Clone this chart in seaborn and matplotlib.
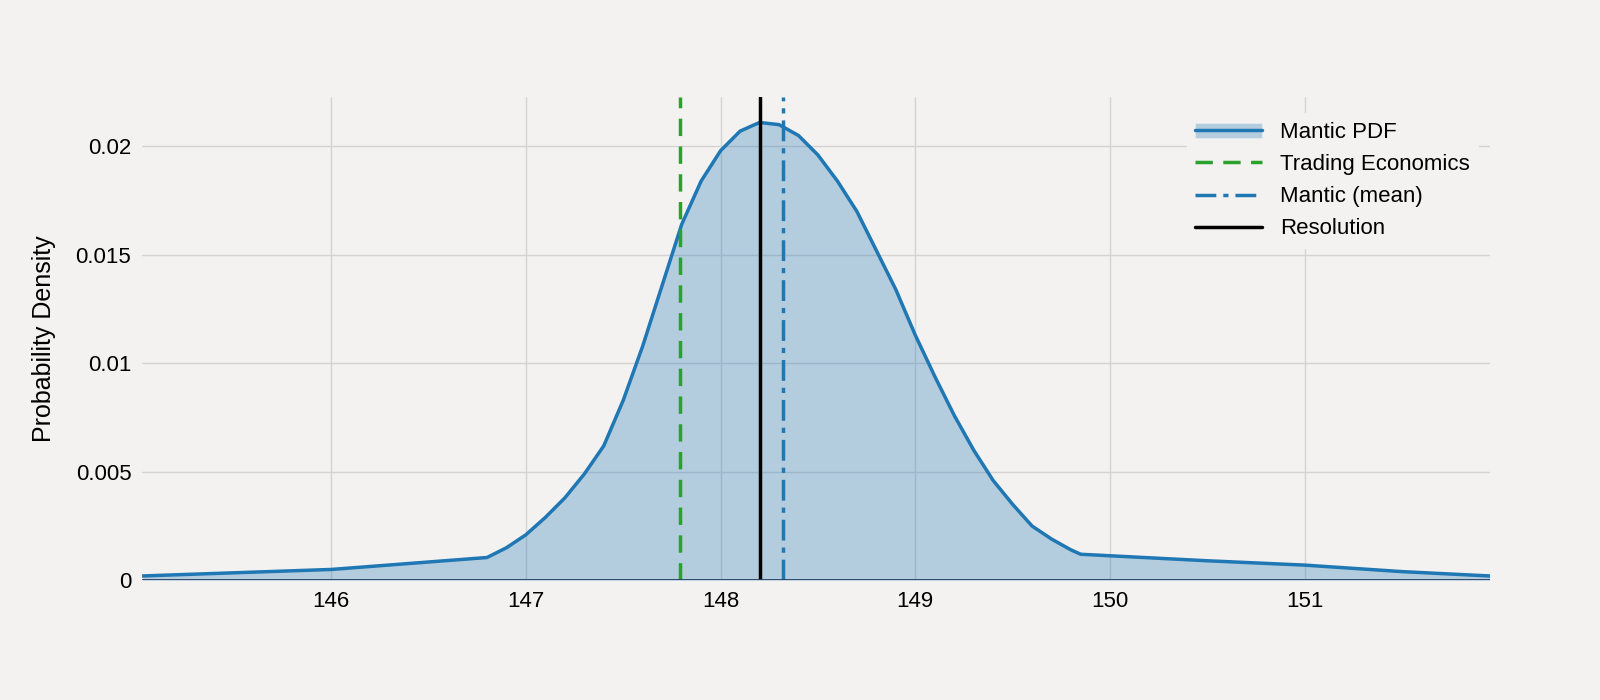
import numpy as np
import pandas as pd
import matplotlib
matplotlib.use("Agg")
import matplotlib.pyplot as plt
import seaborn as sns
from matplotlib.patches import Patch
from matplotlib.lines import Line2D

# valores
x_vals = [145.03, 146.0, 146.80, 146.9, 147.0, 147.1, 147.2, 147.3, 147.4, 147.5,
          147.6, 147.7, 147.8, 147.9, 148.0, 148.1, 148.2, 148.3, 148.4, 148.5,
          148.6, 148.7, 148.8, 148.9, 149.0, 149.1, 149.2, 149.3, 149.4, 149.5,
          149.6, 149.7, 149.8, 149.85, 150.5, 151.0, 151.5, 151.95]
pdf_vals = [0.0002, 0.0005, 0.00105, 0.0015, 0.0021, 0.0029, 0.0038, 0.0049, 0.0062, 0.0083,
            0.0108, 0.0136, 0.0164, 0.0184, 0.0198, 0.0207, 0.0211, 0.0210, 0.0205, 0.0196,
            0.0184, 0.0170, 0.0152, 0.0134, 0.0113, 0.0094, 0.0076, 0.0060, 0.0046, 0.0035,
            0.0025, 0.0019, 0.0014, 0.0012, 0.0009, 0.0007, 0.0004, 0.0002]
trading_economics = 147.79
mantic_mean = 148.32
resolution = 148.20

df = pd.DataFrame({"x": x_vals, "pdf": pdf_vals})

sns.set_style("whitegrid")
plt.rcParams["font.family"] = ["Liberation Sans", "DejaVu Sans"]
plt.rcParams["text.color"] = "black"
plt.rcParams["xtick.color"] = "black"
plt.rcParams["ytick.color"] = "black"
plt.rcParams["axes.labelcolor"] = "black"
bg = "#f3f2f1"
blue = "#1f77b4"

fig = plt.figure(figsize=(16, 7), dpi=100, facecolor=bg)
ax = fig.add_axes([0.089, 0.171, 0.842, 0.69], facecolor=bg)

ax.fill_between(df["x"], df["pdf"], color=blue, alpha=0.3, linewidth=0)
sns.lineplot(data=df, x="x", y="pdf", ax=ax, color=blue, linewidth=2.5, legend=False)
ax.axvline(trading_economics, color="#2ca02c", linestyle=(0, (5, 3)), linewidth=2.5)
ax.axvline(mantic_mean, color=blue, linestyle=(0, (6, 2, 1.5, 2)), linewidth=2.5)
ax.axvline(resolution, color="black", linewidth=2.5)
ax.axhline(0, color="#2a3f5f", linewidth=2)

ax.set_xlim(145.03, 151.95)
ax.set_ylim(0, 0.02226)
ax.set_xticks([146, 147, 148, 149, 150, 151])
ax.set_yticks([0, 0.005, 0.01, 0.015, 0.02])
ax.set_yticklabels(["0", "0.005", "0.01", "0.015", "0.02"])
ax.grid(color="#d3d3d3", linewidth=1)
for s in ax.spines.values():
    s.set_visible(False)
ax.tick_params(labelsize=16, length=0, pad=8)
ax.set_xlabel("")
ax.set_ylabel("Probability Density", fontsize=18, labelpad=14)

handles = [
    (Patch(facecolor=blue, alpha=0.3), Line2D([], [], color=blue, linewidth=2.5)),
    Line2D([], [], color="#2ca02c", linestyle=(0, (5, 3)), linewidth=2.5),
    Line2D([], [], color=blue, linestyle=(0, (6, 2, 1.5, 2)), linewidth=2.5),
    Line2D([], [], color="black", linewidth=2.5),
]
labels = ["Mantic PDF", "Trading Economics", "Mantic (mean)", "Resolution"]
ax.legend(handles, labels, loc="upper right", bbox_to_anchor=(1.0, 0.99),
          fontsize=16, frameon=True, facecolor=bg, edgecolor=bg, framealpha=1,
          handlelength=3)

fig.savefig("out.png", dpi=100, facecolor=bg)
